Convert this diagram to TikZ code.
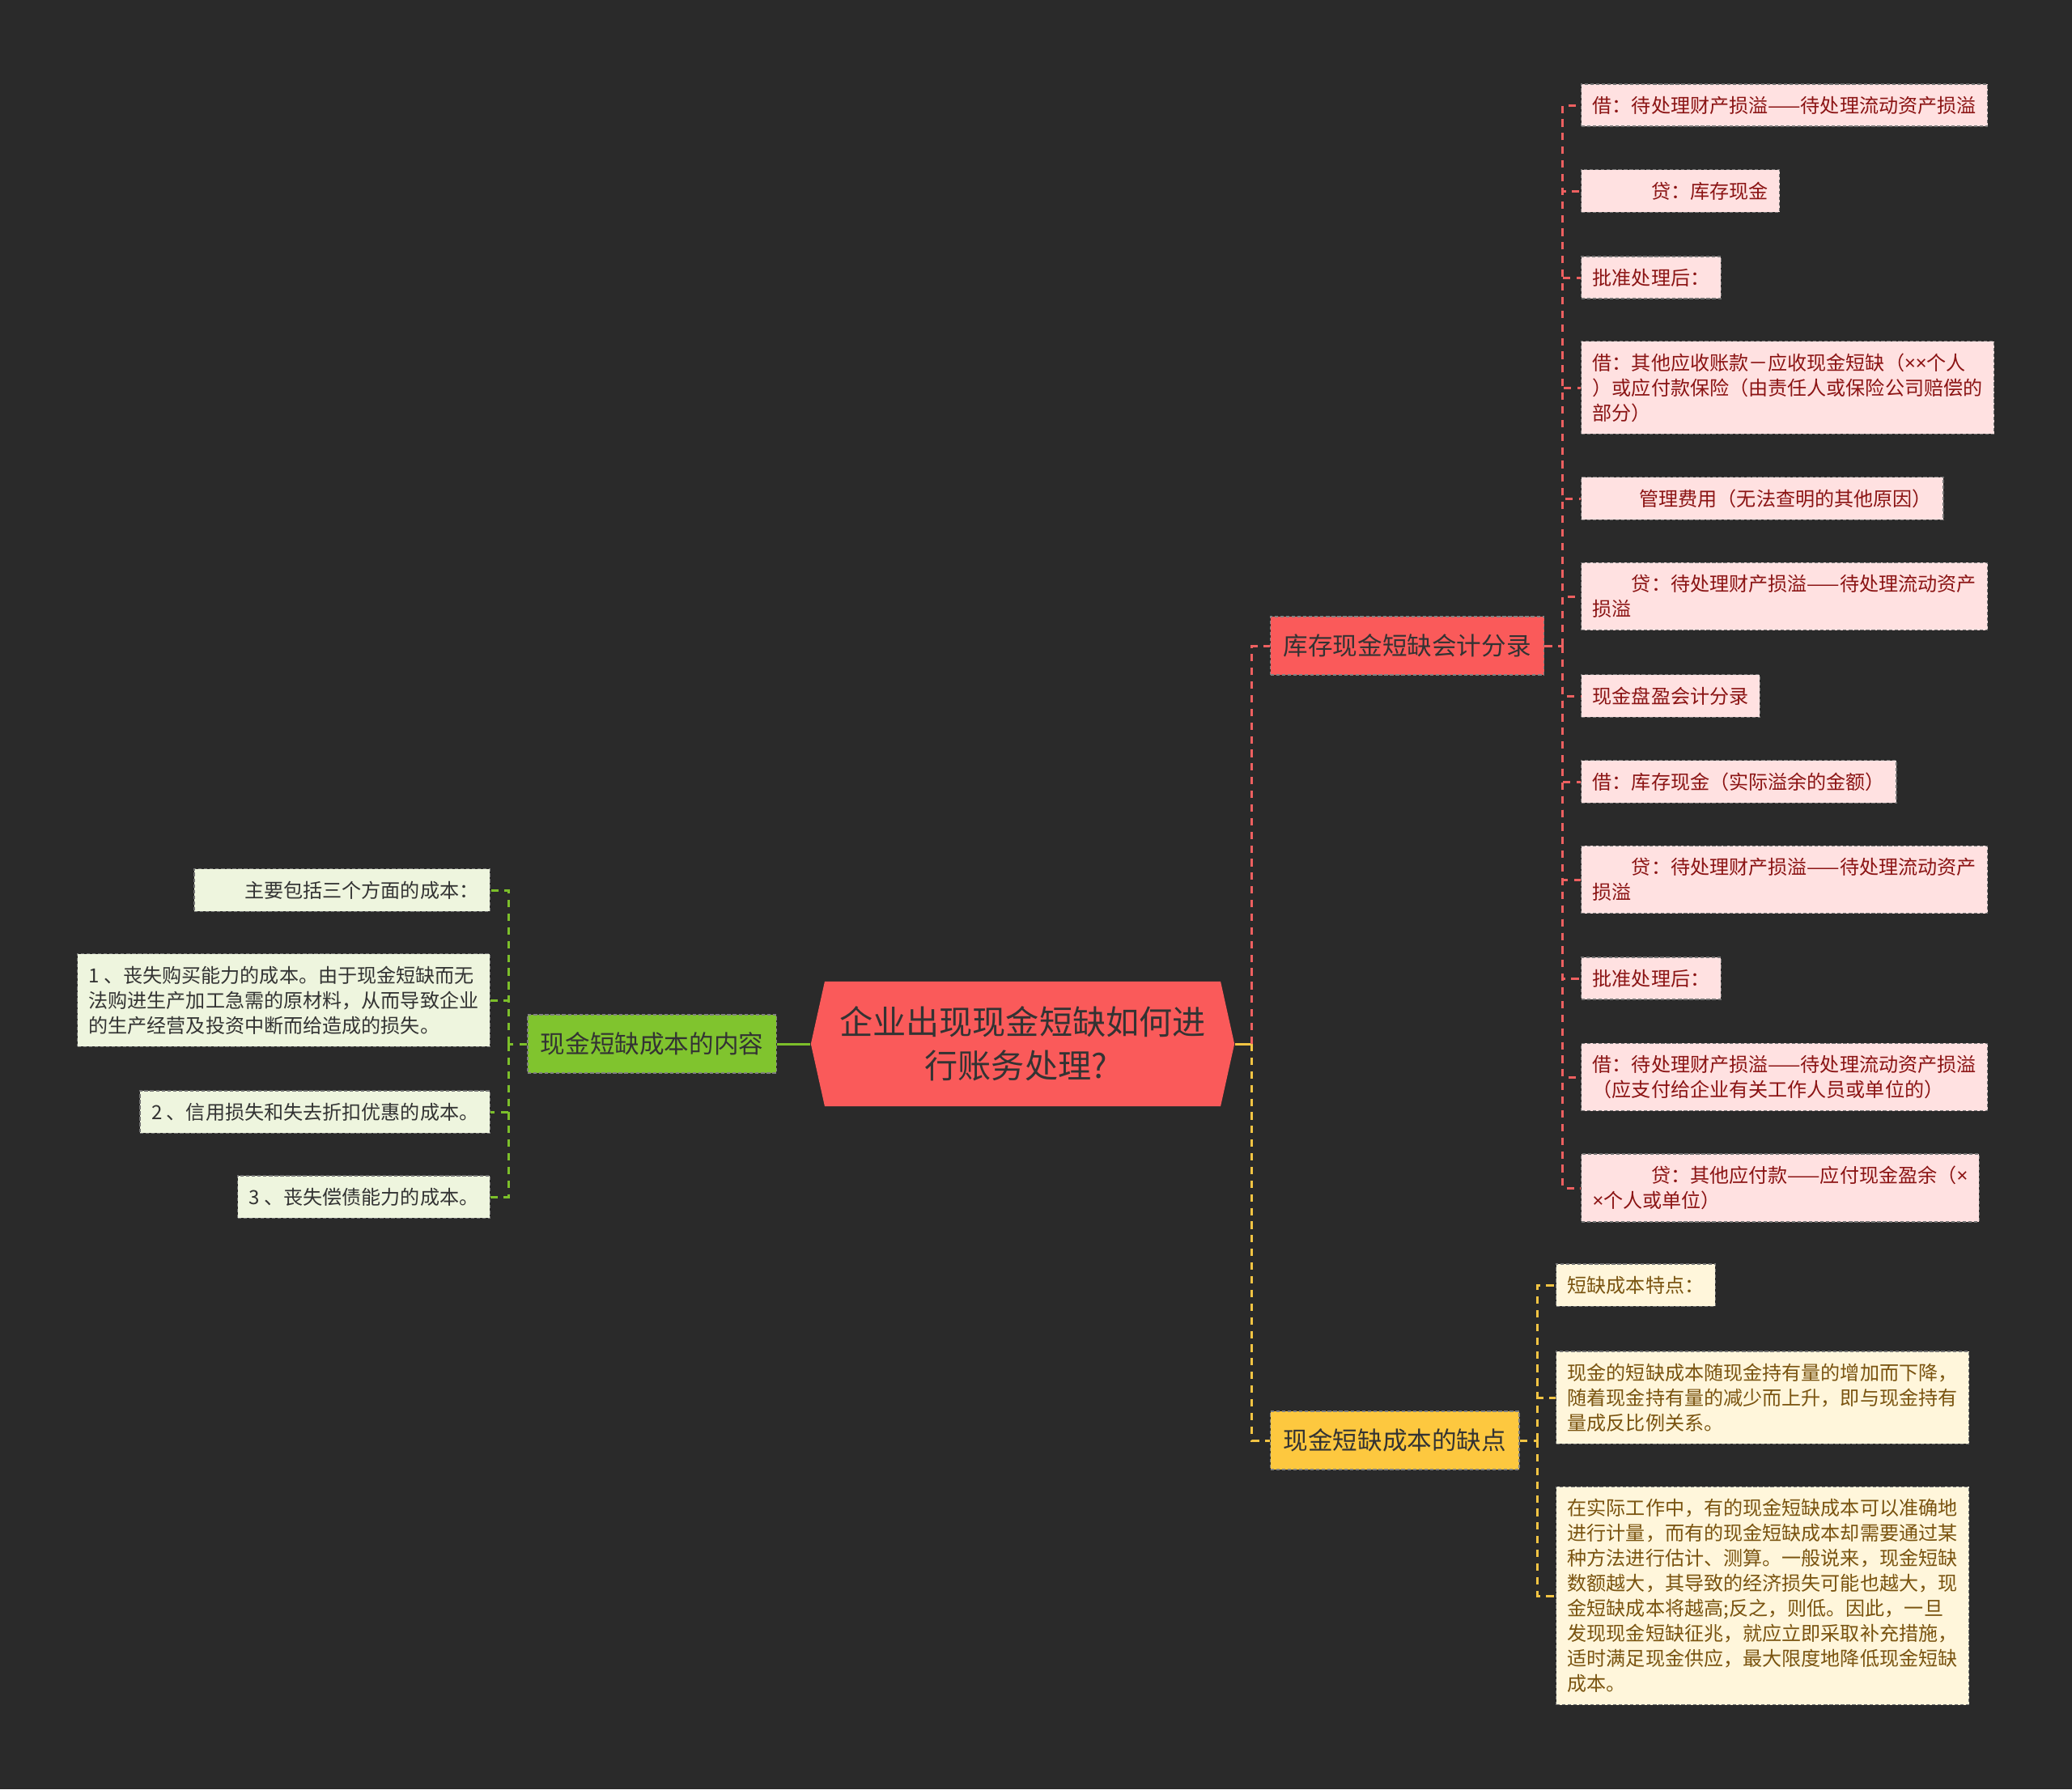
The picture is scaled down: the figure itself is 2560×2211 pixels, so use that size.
\documentclass[tikz,border=0pt]{standalone}
\usepackage{fontspec}
\setmainfont{Noto Sans CJK SC}
\newfontfamily\latinfont{Noto Sans}
\usetikzlibrary{calc,positioning,shapes.symbols}
\definecolor{bgc}{HTML}{2A2A2A}
\definecolor{rootc}{HTML}{FA5A5A}
\definecolor{pinkc}{HTML}{FFE1E1}
\definecolor{pinktxt}{HTML}{8B1414}
\definecolor{pinkln}{HTML}{EE6060}
\definecolor{greenc}{HTML}{80C42E}
\definecolor{greenlf}{HTML}{EEF5DE}
\definecolor{greenln}{HTML}{7CBF2A}
\definecolor{yelc}{HTML}{FDC83F}
\definecolor{yellf}{HTML}{FFF6DB}
\definecolor{yeltxt}{HTML}{7A5410}
\definecolor{yelln}{HTML}{F2C443}
\definecolor{darktxt}{HTML}{333333}
\newcommand\leafsize{\fontsize{6.85pt}{8.8pt}\selectfont}
\newcommand\branchsize{\fontsize{8.7pt}{10pt}\selectfont}
\newcommand\rootsize{\fontsize{11.7pt}{15.4pt}\selectfont}
\newcommand\xx{{\latinfont ×}}
\tikzset{
  leaf/.style={draw=black!55, dash pattern=on 1.2pt off 0.8pt, line width=0.4pt,
    inner xsep=0.14cm, inner ysep=0.15cm, align=left, font=\leafsize},
  pleaf/.style={leaf, fill=pinkc, text=pinktxt, anchor=west},
  gleaf/.style={leaf, fill=greenlf, text=darktxt, anchor=east, align=right},
  yleaf/.style={leaf, fill=yellf, text=yeltxt, anchor=west},
  branch/.style={draw=black!50, dash pattern=on 1.2pt off 0.8pt, line width=0.4pt,
    inner xsep=0.16cm, minimum height=0.72cm, font=\branchsize, text=darktxt},
  rbranch/.style={branch, fill=rootc, anchor=west},
  gbranch/.style={branch, fill=greenc, anchor=east},
  ybranch/.style={branch, fill=yelc, anchor=west},
  rootnode/.style={shape=signal, signal to=west and east, signal pointer angle=155,
    fill=rootc, minimum width=5.23cm, minimum height=1.54cm, inner sep=0pt,
    align=center, font=\rootsize, text=darktxt},
  link/.style={line width=0.85pt, dash pattern=on 2.6pt off 2.2pt},
  plink/.style={link, draw=pinkln},
  glink/.style={link, draw=greenln},
  ylink/.style={link, draw=yelln}
}
\begin{document}
\begin{tikzpicture}[x=0.01cm,y=-0.01cm]
\fill[bgc] (0,0) rectangle (2560,2211);
\useasboundingbox (0,0) rectangle (2560,2211);

\node[rootnode] (root) at (1263.5,1290) {企业出现现金短缺如何进\\行账务处理?\hspace*{0.4em}};

\node[rbranch] (rb1) at (1569,798) {库存现金短缺会计分录};
\node[ybranch] (rb2) at (1569,1780) {现金短缺成本的缺点};
\node[gbranch] (gb) at (960,1290) {现金短缺成本的内容};

\node[pleaf] (p1) at (1953,130) {借：待处理财产损溢——待处理流动资产损溢};
\node[pleaf] (p2) at (1953,236) {\hspace*{3em}贷：库存现金};
\node[pleaf] (p3) at (1953,343) {批准处理后：};
\node[pleaf] (p4) at (1953,479) {借：其他应收账款－应收现金短缺（\xx\xx 个人\\）或应付款保险（由责任人或保险公司赔偿的\\部分）};
\node[pleaf] (p5) at (1953,616) {\hspace*{2.4em}管理费用（无法查明的其他原因）};
\node[pleaf] (p6) at (1953,737) {\hspace*{2em}贷：待处理财产损溢——待处理流动资产\\损溢};
\node[pleaf] (p7) at (1953,860) {现金盘盈会计分录};
\node[pleaf] (p8) at (1953,966) {借：库存现金（实际溢余的金额）};
\node[pleaf] (p9) at (1953,1087) {\hspace*{2em}贷：待处理财产损溢——待处理流动资产\\损溢};
\node[pleaf] (p10) at (1953,1209) {批准处理后：};
\node[pleaf] (p11) at (1953,1331) {借：待处理财产损溢——待处理流动资产损溢\\（应支付给企业有关工作人员或单位的）};
\node[pleaf] (p12) at (1953,1468) {\hspace*{3em}贷：其他应付款——应付现金盈余（\xx\\\xx 个人或单位）};

\node[yleaf] (y1) at (1922,1588) {短缺成本特点：};
\node[yleaf] (y2) at (1922,1727) {现金的短缺成本随现金持有量的增加而下降，\\随着现金持有量的减少而上升，即与现金持有\\量成反比例关系。};
\node[yleaf] (y3) at (1922,1972) {在实际工作中，有的现金短缺成本可以准确地\\进行计量，而有的现金短缺成本却需要通过某\\种方法进行估计、测算。一般说来，现金短缺\\数额越大，其导致的经济损失可能也越大，现\\金短缺成本将越高;反之，则低。因此，一旦\\发现现金短缺征兆，就应立即采取补充措施，\\适时满足现金供应，最大限度地降低现金短缺\\成本。};

\node[gleaf] (g1) at (606,1100) {\hspace*{2em}主要包括三个方面的成本：};
\node[gleaf, align=left] (g2) at (606,1236) {1 、丧失购买能力的成本。由于现金短缺而无\\法购进生产加工急需的原材料，从而导致企业\\的生产经营及投资中断而给造成的损失。};
\node[gleaf] (g3) at (606,1374) {2 、信用损失和失去折扣优惠的成本。};
\node[gleaf] (g4) at (606,1479) {3 、丧失偿债能力的成本。};

\coordinate (mt) at ($(root.east)+(21,0)$);
\draw[ylink, solid] (root.east) -- (mt);
\draw[plink] (mt) |- (rb1.west);
\draw[ylink] (mt) |- (rb2.west);

\coordinate (pt) at ($(rb1.east)+(22,0)$);
\draw[plink] (rb1.east) -- (pt);
\foreach \i in {1,...,12} \draw[plink] (pt) |- (p\i.west);

\coordinate (yt) at ($(rb2.east)+(22,0)$);
\draw[ylink] (rb2.east) -- (yt);
\foreach \i in {1,2,3} \draw[ylink] (yt) |- (y\i.west);

\draw[glink, solid] (root.west) -- (gb.east);
\coordinate (gt) at ($(gb.west)+(-23,0)$);
\draw[glink] (gb.west) -- (gt);
\foreach \i in {1,...,4} \draw[glink] (gt) |- (g\i.east);
\end{tikzpicture}
\end{document}
